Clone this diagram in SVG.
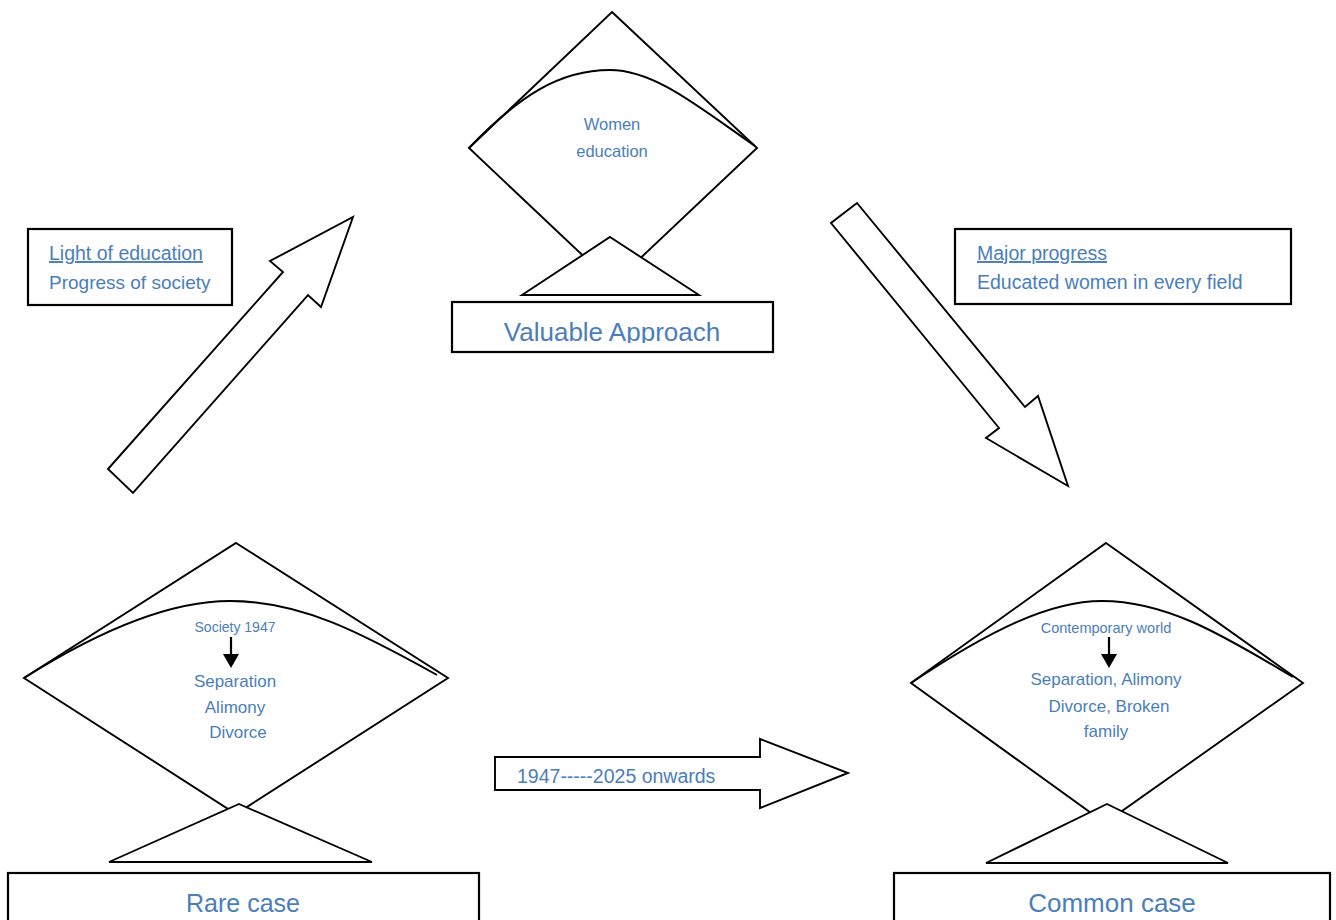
<svg xmlns="http://www.w3.org/2000/svg" width="1336" height="920" viewBox="0 0 1336 920">
<style>
.shape{fill:#fff;stroke:#000;stroke-width:1.9;stroke-linejoin:miter}
.box{fill:#fff;stroke:#000;stroke-width:2.2}
.curve{fill:none;stroke:#000;stroke-width:2}
.t{font-family:"Liberation Sans",Arial,sans-serif;fill:#4A7EBB}
.c{text-anchor:middle}
.u{text-decoration:underline}
.small{fill:none;stroke:#000;stroke-width:2.2}
</style>
<defs>
<clipPath id="clipTop"><rect x="452" y="302" width="321" height="41"/></clipPath>
</defs>
<rect width="1336" height="920" fill="#fff"/>

<g id="connectors">
<polygon id="arrow-up" class="shape" points="108,469 283,272 270,261 353,217 321,307 308,295 133,493"/>
<polygon id="arrow-down" class="shape" points="857,203 1025,407 1038,396 1068,486 986,438 999,428 831,223"/>
<g id="arrow-right">
<polygon class="shape" points="495,757 760,757 760,739 848,773 760,808 760,790 495,790"/>
<text class="t" x="517" y="783" font-size="19.5">1947-----2025 onwards</text>
</g>
</g>

<g id="box-left">
<rect class="box" x="28" y="229" width="204" height="76"/>
<text class="t u" x="49" y="260" font-size="19.5">Light of education</text>
<text class="t" x="49" y="289" font-size="19">Progress of society</text>
</g>

<g id="box-right">
<rect class="box" x="955" y="229" width="336" height="75"/>
<text class="t u" x="977" y="260" font-size="19.5">Major progress</text>
<text class="t" x="977" y="289" font-size="19.5">Educated women in every field</text>
</g>

<g id="kite-top">
<polygon class="shape" points="612,12 757,148 613,284 469,148"/>
<path class="curve" d="M469,148 C520,95 560,70 610,70 C655,70 700,108 755,146"/>
<polygon class="shape" points="610,237 699,295 522,295"/>
<text class="t c" x="612" y="130" font-size="16.5">Women</text>
<text class="t c" x="612" y="157" font-size="16.5">education</text>
<rect class="box" x="452" y="302" width="321" height="50"/>
<text class="t c" x="612" y="341" font-size="26" clip-path="url(#clipTop)">Valuable Approach</text>
</g>

<g id="kite-left">
<polygon class="shape" points="236,543 448,678 236,814 24,678"/>
<path class="curve" d="M24,678 C100,630 170,601 230,601 C300,601 360,632 437,675"/>
<text class="t c" x="235" y="632" font-size="14">Society 1947</text>
<line class="small" x1="231" y1="637" x2="231" y2="656"/>
<polygon points="223,654 239,654 231,668" fill="#000"/>
<text class="t c" x="235" y="687" font-size="17">Separation</text>
<text class="t c" x="235" y="713" font-size="17">Alimony</text>
<text class="t c" x="238" y="738" font-size="17">Divorce</text>
<polygon class="shape" points="239,804 372,862 109,862"/>
<rect class="box" x="8" y="873" width="471" height="60"/>
<text class="t c" x="243" y="912" font-size="25">Rare case</text>
</g>

<g id="kite-right">
<polygon class="shape" points="1106,543 1303,683 1105,823 911,683"/>
<path class="curve" d="M911,683 C990,630 1050,601 1102,601 C1170,601 1230,640 1293,677"/>
<text class="t c" x="1106" y="633" font-size="14.5">Contemporary world</text>
<line class="small" x1="1109" y1="637" x2="1109" y2="656"/>
<polygon points="1101,654 1117,654 1109,668" fill="#000"/>
<text class="t c" x="1106" y="685" font-size="17">Separation, Alimony</text>
<text class="t c" x="1109" y="712" font-size="17">Divorce, Broken</text>
<text class="t c" x="1106" y="737" font-size="17">family</text>
<polygon class="shape" points="1107,804 1228,863 986,863"/>
<rect class="box" x="894" y="873" width="436" height="60"/>
<text class="t c" x="1112" y="912" font-size="26">Common case</text>
</g>
</svg>
